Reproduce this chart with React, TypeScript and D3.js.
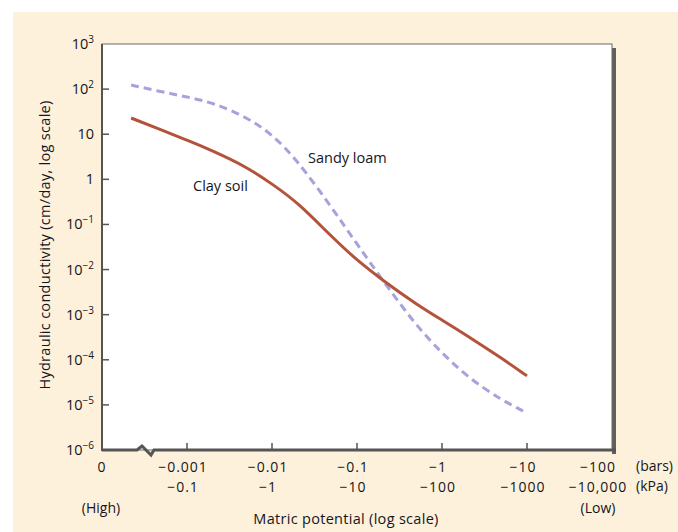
import React, { useEffect, useRef } from 'react';
import * as d3 from 'd3';

// matric potential in bars (negative)
const potentialBars = [-0.00022, -0.0005, -0.001, -0.002, -0.005, -0.01, -0.02, -0.05, -0.1, -0.2, -0.5, -1, -2, -5, -10];
const clayK = [22.9, 12.4, 7.4, 4.3, 1.9, 0.79, 0.31, 0.054, 0.016, 0.0058, 0.0017, 7.6e-4, 3.4e-4, 1.09e-4, 4.4e-5];
const sandyK = [123, 87.5, 66.8, 50.5, 24, 10.1, 2.6, 0.243, 0.0367, 0.0058, 5.6e-4, 1.41e-4, 4.1e-5, 1.28e-5, 6.6e-6];

const xTickValues = [0.001, 0.01, 0.1, 1, 10, 100];
const barLabels = ['−0.001', '−0.01', '−0.1', '−1', '−10', '−100'];
const kpaLabels = ['−0.1', '−1', '−10', '−100', '−1000', '−10,000'];
const yExponents = [3, 2, 1, 0, -1, -2, -3, -4, -5, -6];

const FONT = '"Open Sans", Lato, sans-serif';
const INK = '#15151c';

const App: React.FC = () => {
    const chartRef = useRef<SVGSVGElement>(null);

    useEffect(() => {
        const svg = d3.select(chartRef.current);
        svg.selectAll('*').remove();

        const left = 102, top = 44, right = 612, bottom = 450;

        svg.append('rect').attr('x', 13).attr('y', 12).attr('width', 665).attr('height', 520).attr('fill', '#fdf1dc');

        const x = d3.scaleLog().domain([0.001, 100]).range([187, right]);
        const y = d3.scaleLog().domain([1e-6, 1e3]).range([bottom, top]);

        // plot frame + shadow
        svg.append('rect').attr('x', right).attr('y', top + 4).attr('width', 4).attr('height', bottom - top).attr('fill', '#5e5e5e');
        svg.append('rect').attr('x', left).attr('y', top).attr('width', right - left).attr('height', bottom - top)
            .attr('fill', '#fff').attr('stroke', '#6a6a6a').attr('stroke-width', 1);
        svg.append('line').attr('x1', left).attr('x2', left).attr('y1', top).attr('y2', bottom + 1)
            .attr('stroke', '#555').attr('stroke-width', 2);

        // bottom axis with break
        svg.append('path')
            .attr('d', `M${left},${bottom} H137 L142,446 L151,455 L154,${bottom} H${right + 4}`)
            .attr('fill', 'none').attr('stroke', '#555').attr('stroke-width', 3);

        const g = svg.append('g').attr('font-family', FONT).attr('font-weight', 500).attr('fill', INK);

        // y ticks
        yExponents.forEach(e => {
            const yy = y(Math.pow(10, e));
            if (e < 3 && e > -6) {
                g.append('line').attr('x1', left).attr('x2', left + 7).attr('y1', yy).attr('y2', yy)
                    .attr('stroke', '#555').attr('stroke-width', 1.5);
            }
            const t = g.append('text').attr('x', 94).attr('y', yy + 5).attr('text-anchor', 'end')
                .attr('font-size', 14.5);
            if (e === 0) t.text('1');
            else if (e === 1) t.text('10');
            else {
                t.append('tspan').text('10');
                t.append('tspan').attr('dy', -6).attr('font-size', 10).text(e < 0 ? `−${-e}` : `${e}`);
            }
        });

        // x ticks
        const xt = g.append('g').attr('font-size', 14).attr('letter-spacing', 1);
        xTickValues.forEach((v, i) => {
            const xx = x(v);
            if (v < 100) {
                xt.append('line').attr('x1', xx).attr('x2', xx).attr('y1', bottom - 7).attr('y2', bottom)
                    .attr('stroke', '#555').attr('stroke-width', 1.5);
            }
            const lx = v < 100 ? xx - 4 : xx - 14;
            xt.append('text').attr('x', lx).attr('y', 472).attr('text-anchor', 'middle').text(barLabels[i]);
            xt.append('text').attr('x', lx).attr('y', 492).attr('text-anchor', 'middle').text(kpaLabels[i]);
        });
        xt.append('text').attr('x', left).attr('y', 472).attr('text-anchor', 'middle').text('0');

        const side = g.append('g').attr('font-size', 14);
        side.append('text').attr('x', 636).attr('y', 471).text('(bars)');
        side.append('text').attr('x', 636).attr('y', 491).text('(kPa)');
        side.append('text').attr('x', 101).attr('y', 513).attr('text-anchor', 'middle').text('(High)');
        side.append('text').attr('x', 598).attr('y', 513).attr('text-anchor', 'middle').text('(Low)');

        g.append('text').attr('x', 346).attr('y', 524).attr('text-anchor', 'middle')
            .attr('font-size', 14.5).attr('letter-spacing', 0.3)
            .text('Matric potential (log scale)');
        g.append('text').attr('transform', 'translate(50,245) rotate(-90)').attr('text-anchor', 'middle')
            .attr('font-size', 14.5).attr('letter-spacing', 0.3)
            .text('Hydraulic conductivity (cm/day, log scale)');

        const line = d3.line<number>()
            .x((_, i) => x(Math.abs(potentialBars[i])))
            .y(d => y(d))
            .curve(d3.curveBasis);

        svg.append('path').attr('d', line(sandyK)).attr('fill', 'none')
            .attr('stroke', '#a6a3dc').attr('stroke-width', 3).attr('stroke-dasharray', '8,5');
        svg.append('path').attr('d', line(clayK)).attr('fill', 'none')
            .attr('stroke', '#b4533c').attr('stroke-width', 3);

        g.append('text').attr('x', 308).attr('y', 163).attr('font-size', 14.5).text('Sandy loam');
        g.append('text').attr('x', 193).attr('y', 191).attr('font-size', 14.5).text('Clay soil');
    }, []);

    return <svg ref={chartRef} width="678" height="532" style={{ position: 'absolute', left: 0, top: 0 }}></svg>;
};

export default App;
